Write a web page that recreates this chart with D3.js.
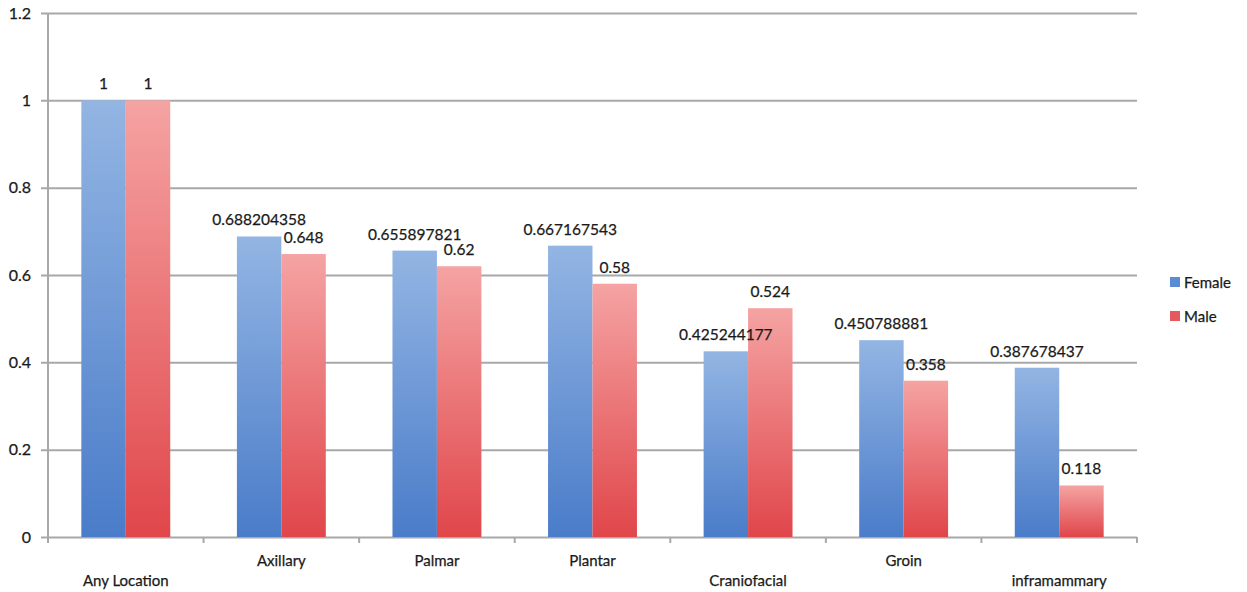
<!DOCTYPE html>
<html>
<head>
<meta charset="utf-8">
<script src="https://cdn.jsdelivr.net/npm/d3@7"></script>
<style>
  html, body { margin: 0; padding: 0; background: #fff; }
  svg { display: block; font-family: Lato, "Open Sans", sans-serif; }
  svg text { stroke: #1a1a1a; stroke-width: 0.25px; }
</style>
</head>
<body>
<svg id="chart" width="1247" height="592"></svg>
<script>
// Relative frequency by body location, split by sex
const categories = ["Any Location", "Axillary", "Palmar", "Plantar", "Craniofacial", "Groin", "inframammary"];
const seriesNames = ["Female", "Male"];
const femaleValues = [1, 0.688204358, 0.655897821, 0.667167543, 0.425244177, 0.450788881, 0.387678437];
const maleValues = [1, 0.648, 0.62, 0.58, 0.524, 0.358, 0.118];
const femaleLabels = ["1", "0.688204358", "0.655897821", "0.667167543", "0.425244177", "0.450788881", "0.387678437"];
const maleLabels = ["1", "0.648", "0.62", "0.58", "0.524", "0.358", "0.118"];
const yTicks = [0, 0.2, 0.4, 0.6, 0.8, 1, 1.2];
const yTickLabels = ["0", "0.2", "0.4", "0.6", "0.8", "1", "1.2"];

const svg = d3.select("#chart");
const plot = { left: 48, right: 1137, top: 13, bottom: 537 };
const gridColor = "#a8a8a8";
const textColor = "#1a1a1a";

const x0 = d3.scaleBand().domain(categories).range([plot.left, plot.right]).padding(0);
// two bars with a gap of 150% of a bar width
const barW = x0.bandwidth() / 3.5;
const x1 = d3.scaleBand().domain(seriesNames)
  .range([x0.bandwidth() * 0.75 / 3.5, x0.bandwidth() * 0.75 / 3.5 + 2 * barW]).padding(0);
const y = d3.scaleLinear().domain([0, 1.2]).range([plot.bottom, plot.top]);

// bar gradients
const defs = svg.append("defs");
const gradients = [
  { id: "gFemale", top: "#93b5e3", bottom: "#4a7cc9" },
  { id: "gMale", top: "#f5a3a3", bottom: "#e0464a" }
];
gradients.forEach(g => {
  const lg = defs.append("linearGradient").attr("id", g.id)
    .attr("x1", 0).attr("y1", 0).attr("x2", 0).attr("y2", 1);
  lg.append("stop").attr("offset", "0%").attr("stop-color", g.top);
  lg.append("stop").attr("offset", "100%").attr("stop-color", g.bottom);
});

// horizontal gridlines and y axis
const yAxis = d3.axisLeft(y).tickValues(yTicks)
  .tickFormat((d, i) => yTickLabels[i])
  .tickSize(-(plot.right - plot.left)).tickSizeOuter(0).tickPadding(14);
const gy = svg.append("g").attr("transform", `translate(${plot.left},0)`).call(yAxis);
gy.select(".domain").remove();
gy.selectAll(".tick line").attr("stroke", gridColor).attr("stroke-width", 2)
  .attr("x1", -7);
gy.selectAll(".tick text").attr("fill", textColor).attr("font-size", 16)
  .attr("font-family", "Lato, sans-serif").attr("x", -17);
svg.append("line")
  .attr("x1", plot.left).attr("x2", plot.left)
  .attr("y1", plot.top).attr("y2", plot.bottom)
  .attr("stroke", gridColor).attr("stroke-width", 2);

// x axis tick marks at category boundaries
const boundaries = categories.map(c => x0(c)).concat([plot.right]);
svg.append("g").selectAll("line").data(boundaries).join("line")
  .attr("x1", d => d).attr("x2", d => d)
  .attr("y1", plot.bottom).attr("y2", plot.bottom + 6)
  .attr("stroke", gridColor).attr("stroke-width", 2);

const rows = categories.map((c, i) => ({
  cat: c,
  bars: [
    { s: "Female", v: femaleValues[i], label: femaleLabels[i], fill: "url(#gFemale)" },
    { s: "Male", v: maleValues[i], label: maleLabels[i], fill: "url(#gMale)" }
  ]
}));

const groups = svg.append("g").selectAll("g").data(rows).join("g")
  .attr("transform", d => `translate(${x0(d.cat)},0)`);

groups.selectAll("rect").data(d => d.bars).join("rect")
  .attr("x", d => x1(d.s))
  .attr("width", x1.bandwidth())
  .attr("y", d => y(d.v))
  .attr("height", d => y(0) - y(d.v))
  .attr("fill", d => d.fill);

groups.selectAll("text.val").data(d => d.bars).join("text")
  .attr("class", "val")
  .attr("x", d => x1(d.s) + x1.bandwidth() / 2)
  .attr("y", d => y(d.v) - 11)
  .attr("text-anchor", "middle")
  .attr("font-size", 15.5)
  .attr("fill", textColor)
  .text(d => d.label);

// category labels; wide ones drop to a second row
const xl = svg.append("g").selectAll("text").data(categories).join("text")
  .attr("x", d => x0(d) + x0.bandwidth() / 2)
  .attr("text-anchor", "middle")
  .attr("font-size", 15)
  .attr("fill", textColor)
  .text(d => d);
xl.attr("y", function() {
  return this.getComputedTextLength() > 70 ? 586 : 566;
});

// legend
const legend = svg.append("g").attr("transform", "translate(1170,282)");
const legendItems = [
  { name: seriesNames[0], color: "#5b8bd3" },
  { name: seriesNames[1], color: "#e55a5e" }
];
const li = legend.selectAll("g").data(legendItems).join("g")
  .attr("transform", (d, i) => `translate(0,${i * 34})`);
li.append("rect").attr("x", 0).attr("y", -5).attr("width", 10).attr("height", 10)
  .attr("fill", d => d.color);
li.append("text").attr("x", 14).attr("y", 5.5).attr("font-size", 15)
  .attr("fill", textColor).text(d => d.name);
</script>
</body>
</html>
